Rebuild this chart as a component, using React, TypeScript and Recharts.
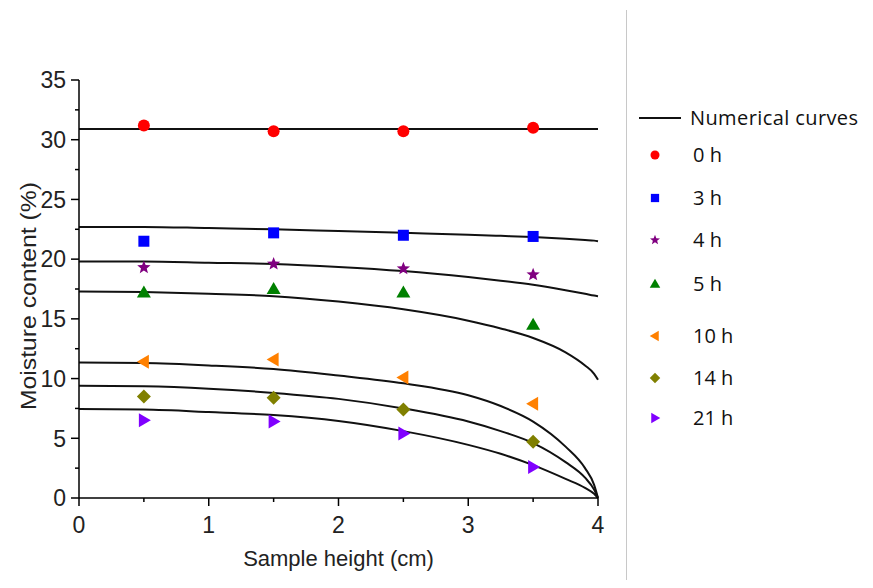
import { ComposedChart, Line, Scatter, XAxis, YAxis } from 'recharts'

// sample heights where moisture was measured (cm)
const sampleX = [0.5, 1.5, 2.5, 3.5]

const series = [
  { name: '0 h', color: '#ff0000', shape: 'circle', values: [31.2, 30.7, 30.7, 31.0] },
  { name: '3 h', color: '#0000ff', shape: 'square', values: [21.5, 22.2, 22.0, 21.9] },
  { name: '4 h', color: '#800080', shape: 'star', values: [19.3, 19.6, 19.2, 18.7] },
  { name: '5 h', color: '#008000', shape: 'triangleUp', values: [17.2, 17.5, 17.2, 14.5] },
  { name: '10 h', color: '#ff8000', shape: 'triangleLeft', values: [11.4, 11.6, 10.1, 7.9] },
  { name: '14 h', color: '#808000', shape: 'diamond', values: [8.5, 8.4, 7.4, 4.7] },
  { name: '21 h', color: '#8000ff', shape: 'triangleRight', values: [6.5, 6.4, 5.4, 2.6] },
]

// numerical curves, read along the height axis
const curveX = [0, 0.5, 1, 1.5, 2, 2.5, 3, 3.25, 3.5, 3.75, 3.9, 3.97, 4]
const curve0h = [30.9, 30.9, 30.9, 30.9, 30.9, 30.9, 30.9, 30.9, 30.9, 30.9, 30.9, 30.9, 30.9]
const curve3h = [22.7, 22.7, 22.6, 22.5, 22.35, 22.2, 22.05, 21.95, 21.85, 21.7, 21.6, 21.55, 21.5]
const curve4h = [19.8, 19.8, 19.7, 19.6, 19.35, 19.0, 18.5, 18.2, 17.85, 17.4, 17.1, 16.95, 16.9]
const curve5h = [17.3, 17.25, 17.1, 16.9, 16.45, 15.8, 14.85, 14.2, 13.4, 12.2, 11.1, 10.4, 9.9]
const curve10h = [11.35, 11.3, 11.1, 10.8, 10.25, 9.6, 8.6, 7.7, 6.4, 4.3, 2.5, 1.1, 0]
const curve14h = [9.4, 9.35, 9.15, 8.8, 8.3, 7.5, 6.4, 5.6, 4.6, 3.0, 1.7, 0.7, 0]
const curve21h = [7.45, 7.4, 7.2, 6.95, 6.45, 5.6, 4.45, 3.7, 2.75, 1.6, 0.85, 0.35, 0]

const curves = [curve0h, curve3h, curve4h, curve5h, curve10h, curve14h, curve21h]

const xTicks = [0, 0.5, 1, 1.5, 2, 2.5, 3, 3.5, 4]
const yTicks = [0, 2.5, 5, 7.5, 10, 12.5, 15, 17.5, 20, 22.5, 25, 27.5, 30, 32.5, 35]

const AXIS_FONT = '"Liberation Sans", Arial, sans-serif'
const LEGEND_FONT = '"Open Sans", sans-serif'
const TICK_SIZE = 8
const TICK_MARGIN = 5

function Marker({ cx, cy, shape, color }: { cx: number; cy: number; shape: string; color: string }) {
  switch (shape) {
    case 'circle':
      return <circle cx={cx} cy={cy} r={6} fill={color} />
    case 'square':
      return <rect x={cx - 5.5} y={cy - 5.5} width={11} height={11} fill={color} />
    case 'star': {
      const pts: string[] = []
      for (let i = 0; i < 10; i++) {
        const r = i % 2 === 0 ? 7 : 3
        const a = -Math.PI / 2 + (i * Math.PI) / 5
        pts.push(`${cx + r * Math.cos(a)},${cy + r * Math.sin(a)}`)
      }
      return <polygon points={pts.join(' ')} fill={color} />
    }
    case 'triangleUp':
      return <polygon points={`${cx},${cy - 7} ${cx + 7},${cy + 5} ${cx - 7},${cy + 5}`} fill={color} />
    case 'triangleLeft':
      return <polygon points={`${cx - 7},${cy} ${cx + 5},${cy - 7} ${cx + 5},${cy + 7}`} fill={color} />
    case 'triangleRight':
      return <polygon points={`${cx + 7},${cy} ${cx - 5},${cy - 7} ${cx - 5},${cy + 7}`} fill={color} />
    case 'diamond':
      return <polygon points={`${cx},${cy - 7} ${cx + 7},${cy} ${cx},${cy + 7} ${cx - 7},${cy}`} fill={color} />
    default:
      return null
  }
}

// ticks with long major / short minor marks, pointing outward
function XTick(props: any) {
  const { x, y, payload } = props
  const axisY = y - TICK_SIZE - TICK_MARGIN
  const major = Number.isInteger(payload.value)
  return (
    <g>
      <line x1={x} x2={x} y1={axisY} y2={axisY + (major ? 8 : 4)} stroke="#000" strokeWidth={1.5} />
      {major && (
        <text x={x} y={axisY + 19} dy="0.71em" textAnchor="middle" fill="#222" fontSize={23} fontFamily={AXIS_FONT}>
          {payload.value}
        </text>
      )}
    </g>
  )
}

function YTick(props: any) {
  const { x, y, payload } = props
  const axisX = x + TICK_SIZE + TICK_MARGIN
  const major = payload.value % 5 === 0
  return (
    <g>
      <line x1={axisX} x2={axisX - (major ? 8 : 4)} y1={y} y2={y} stroke="#000" strokeWidth={1.5} />
      {major && (
        <text x={axisX - 13} y={y} dy="0.36em" textAnchor="end" fill="#222" fontSize={23} fontFamily={AXIS_FONT}>
          {payload.value}
        </text>
      )}
    </g>
  )
}

function YLabel(props: any) {
  const vb = props.viewBox
  const cx = vb.x + 28
  const cy = vb.y + vb.height / 2 + 7
  return (
    <text
      x={cx}
      y={cy}
      transform={`rotate(-90, ${cx}, ${cy})`}
      textAnchor="middle"
      fill="#222"
      fontSize={22}
      fontFamily={AXIS_FONT}
      textLength={228}
      lengthAdjust="spacingAndGlyphs"
    >
      Moisture content (%)
    </text>
  )
}

const legendRows = [118, 155, 198, 240, 284, 336, 378, 418]

export default function App() {
  return (
    <div style={{ position: 'relative', width: 857, height: 572 }}>
      <ComposedChart
        width={600}
        height={570}
        margin={{ top: 72, right: 10, left: 0, bottom: 8 }}
      >
        <XAxis
          dataKey="x"
          type="number"
          domain={[0, 4]}
          ticks={xTicks}
          interval={0}
          stroke="#000"
          strokeWidth={1.5}
          tickLine={false}
          tickSize={TICK_SIZE}
          tickMargin={TICK_MARGIN}
          height={72}
          tick={<XTick />}
          label={{ value: 'Sample height (cm)', position: 'insideBottom', offset: 4, fill: '#222', fontSize: 22, fontFamily: AXIS_FONT }}
        />
        <XAxis xAxisId="top" orientation="top" type="number" domain={[0, 4]} dataKey="x" tick={false} tickLine={false} height={0} stroke="#000" strokeWidth={1.5} />
        <YAxis
          type="number"
          domain={[0, 35]}
          ticks={yTicks}
          interval={0}
          stroke="#000"
          strokeWidth={1.5}
          tickLine={false}
          tickSize={TICK_SIZE}
          tickMargin={TICK_MARGIN}
          width={71}
          tick={<YTick />}
          label={{ content: <YLabel /> }}
        />
        <YAxis yAxisId="right" orientation="right" type="number" domain={[0, 35]} tick={false} tickLine={false} width={0} stroke="#000" strokeWidth={1.5} />
        {curves.map((c, i) => (
          <Line
            key={'curve' + i}
            data={curveX.map((x, j) => ({ x, y: c[j] }))}
            dataKey="y"
            type="monotone"
            stroke="#111"
            strokeWidth={2}
            dot={false}
            activeDot={false}
            isAnimationActive={false}
            legendType="none"
          />
        ))}
        {series.map(s => (
          <Scatter
            key={s.name}
            name={s.name}
            data={sampleX.map((x, j) => ({ x, y: s.values[j] }))}
            dataKey="y"
            fill={s.color}
            isAnimationActive={false}
            shape={(p: any) => <Marker cx={p.cx} cy={p.cy} shape={s.shape} color={s.color} />}
          />
        ))}
      </ComposedChart>

      <div style={{ position: 'absolute', left: 618, top: 2, width: 1, height: 580, background: '#c8c8c8' }} />

      <div style={{ position: 'absolute', left: 0, top: 0, fontFamily: LEGEND_FONT, fontSize: 20, color: '#111' }}>
        <div style={{ position: 'absolute', left: 639 - 8, top: legendRows[0] - 9, width: 42, height: 2, background: '#111' }} />
        <div style={{ position: 'absolute', left: 682, top: legendRows[0] - 8 - 14, whiteSpace: 'nowrap', lineHeight: '28px', letterSpacing: 0.4 }}>Numerical curves</div>
        {series.map((s, i) => (
          <div key={s.name}>
            <svg style={{ position: 'absolute', left: 637, top: legendRows[i + 1] - 8 - 10 }} width={20} height={20}>
              <g transform="translate(10,10) scale(0.75) translate(-10,-10)">
                <Marker cx={10} cy={10} shape={s.shape} color={s.color} />
              </g>
            </svg>
            <div style={{ position: 'absolute', left: 685, top: legendRows[i + 1] - 8 - 14, whiteSpace: 'nowrap', lineHeight: '28px' }}>{s.name}</div>
          </div>
        ))}
      </div>
    </div>
  )
}
